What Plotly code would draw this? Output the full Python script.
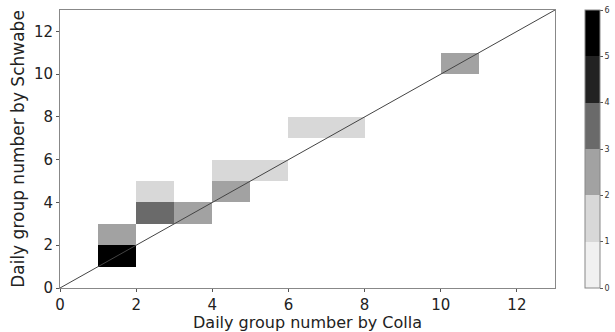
import numpy as np
import plotly.graph_objects as go

# Data: 2D histogram cells (bin lower edges) and counts
colla_bin = [1, 1, 2, 2, 3, 4, 4, 5, 6, 7, 10]
schwabe_bin = [1, 2, 3, 4, 3, 4, 5, 5, 7, 7, 10]
counts = [5, 2, 3, 1, 2, 2, 1, 1, 1, 1, 2]

axis_max = 13
tick_vals = [0, 2, 4, 6, 8, 10, 12]
cbar_ticks = [0, 1, 2, 3, 4, 5, 6]
x_title = 'Daily group number by Colla'
y_title = 'Daily group number by Schwabe'

edges = np.arange(axis_max + 1)
z = np.full((axis_max, axis_max), np.nan)
for cx, sy, c in zip(colla_bin, schwabe_bin, counts):
    z[sy, cx] = c

band_colors = ['#f0f0f0', '#d8d8d8', '#a2a2a2', '#6a6a6a', '#222222', '#000000']
cs = []
eps = 0.001
for i, col in enumerate(band_colors):
    lo = 0 if i == 0 else (i - eps) / 6
    hi = 1 if i == 5 else (i + 1 - eps) / 6
    cs.append([lo, col])
    cs.append([hi, col])

fig = go.Figure()
fig.add_trace(go.Heatmap(
    x=edges, y=edges, z=z, zmin=0, zmax=6, colorscale=cs,
    hoverongaps=False,
    colorbar=dict(
        x=1.0606, xanchor='left', xpad=0, y=0.5, yanchor='middle', len=1,
        ypad=0, thickness=15, outlinewidth=1, outlinecolor='#888888',
        tickvals=cbar_ticks, ticks='outside', ticklen=3, tickwidth=1,
        tickcolor='#555555', tickfont=dict(size=8, color='#333333', family='DejaVu Sans'),
    ),
))
fig.add_trace(go.Scatter(
    x=[0, axis_max], y=[0, axis_max], mode='lines',
    line=dict(color='#444444', width=1), showlegend=False, hoverinfo='skip',
))

axis_common = dict(
    range=[0, axis_max], tickvals=tick_vals, ticks='outside', ticklen=3, tickwidth=1,
    tickcolor='#555555', showline=True, linecolor='#888888', linewidth=1, mirror=True,
    showgrid=False, zeroline=False, automargin=False,
    tickfont=dict(size=15, color='#222222', family='DejaVu Sans'),
)
fig.update_xaxes(**axis_common)
fig.update_yaxes(**axis_common, title=dict(text=y_title,
                 font=dict(size=17, color='#222222', family='DejaVu Sans'), standoff=4))

plot_h = 332 - 10 - 44
fig.add_annotation(
    text=x_title, xref='paper', yref='paper', x=0.5, y=(288 - 322.5) / plot_h,
    xanchor='center', yanchor='middle', showarrow=False, borderpad=0,
    font=dict(size=16, color='#222222', family='DejaVu Sans'),
)

fig.update_layout(
    width=615, height=332, margin=dict(l=60, r=60, t=10, b=44, autoexpand=False),
    plot_bgcolor='white', paper_bgcolor='white', showlegend=False,
)
fig.write_html('out.html')
